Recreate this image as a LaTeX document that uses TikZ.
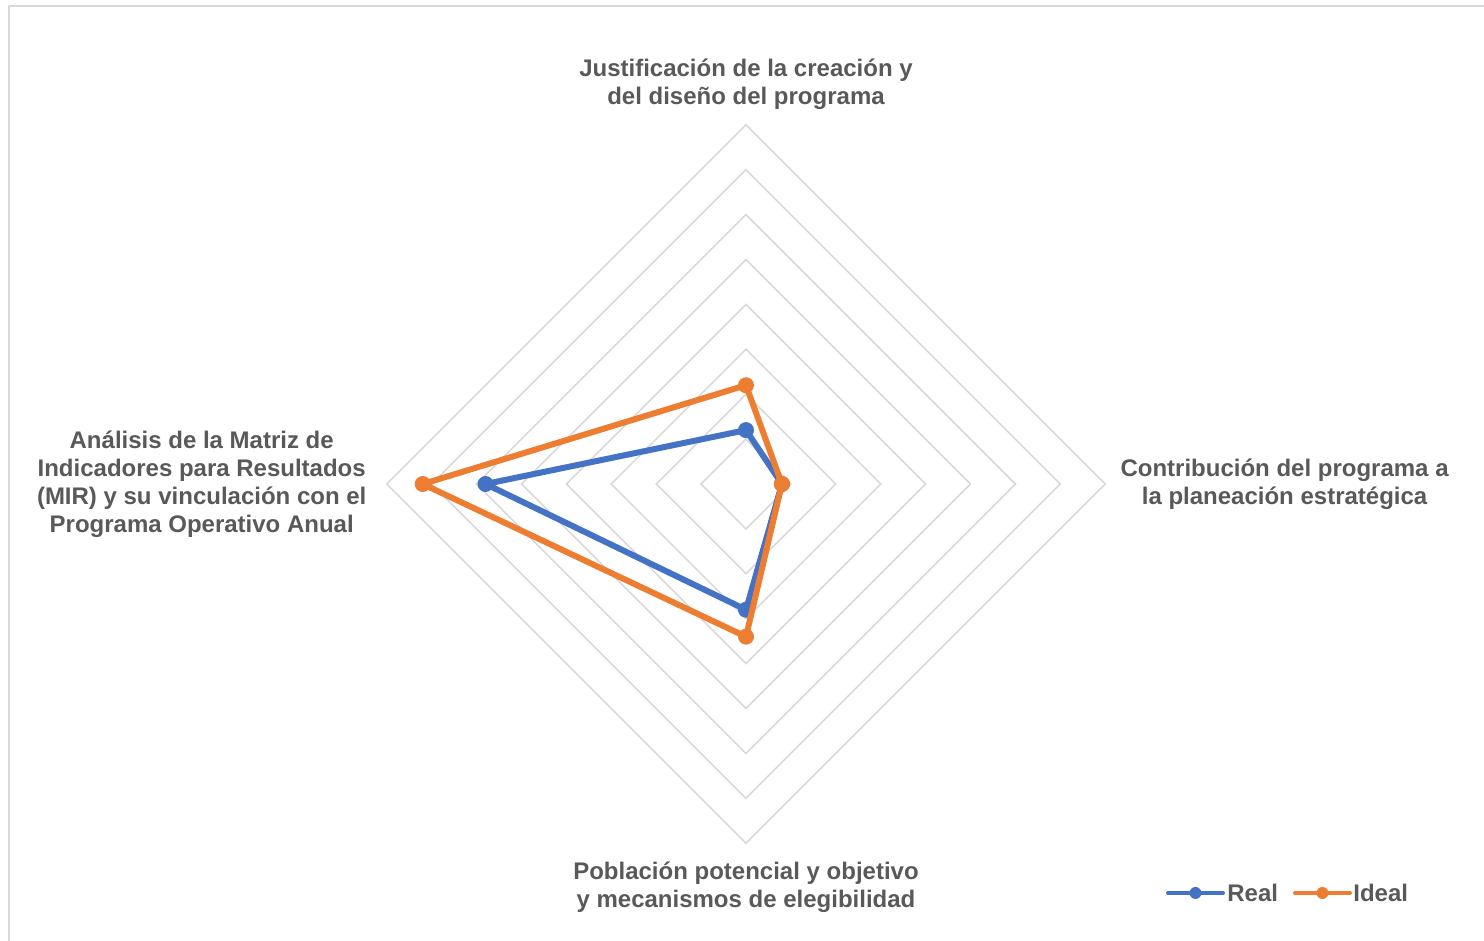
\documentclass[tikz,border=0pt]{standalone}
\usepackage{fontspec}
\setmainfont{Liberation Sans}
\usetikzlibrary{positioning,calc}
\definecolor{realblue}{HTML}{4472C4}
\definecolor{idealorange}{HTML}{ED7D31}
\definecolor{gridgray}{HTML}{D9D9D9}
\definecolor{labelgray}{HTML}{595959}

\begin{document}
\begin{tikzpicture}[x=22.45pt,y=22.45pt,
    gridline/.style={draw=gridgray,line width=0.8pt},
    axislabel/.style={text=labelgray,font=\bfseries\fontsize{12}{14}\selectfont,align=center,inner sep=0pt},
    realline/.style={draw=realblue,line width=3pt,line join=round},
    idealline/.style={draw=idealorange,line width=3pt,line join=round},
    legline/.style={line width=2pt,line cap=round}]
        \clip (-16.615,-10.178) rectangle (16.437,10.78);
        \useasboundingbox (-16.615,-10.178) rectangle (16.437,10.78);

        \draw[gridline] (-16.414,-12) -- (-16.414,10.646) -- (18,10.646);

        \foreach \r in {1,...,8}
            \draw[gridline] (0,\r) -- (\r,0) -- (0,-\r) -- (-\r,0) -- cycle;

        \coordinate (axtop) at (0,8);
        \coordinate (axright) at (8,0);
        \coordinate (axbottom) at (0,-8);
        \coordinate (axleft) at (-8,0);

        \node[axislabel,above=7.5pt of axtop] (lbltop) {Justificación de la creación y\\del diseño del programa};
        \node[axislabel,right=7.5pt of axright] (lblright) {Contribución del programa a\\la planeación estratégica};
        \node[axislabel,below=9pt of axbottom] (lblbottom) {Población potencial y objetivo\\y mecanismos de elegibilidad};
        \node[axislabel,left=10pt of axleft] (lblleft) {Análisis de la Matriz de\\Indicadores para Resultados\\(MIR) y su vinculación con el\\Programa Operativo Anual};

        \coordinate (real1) at (0,1.2);
        \coordinate (real2) at (0.8,0);
        \coordinate (real3) at (0,-2.8);
        \coordinate (real4) at (-5.8,0);
        \draw[realline] (real1) -- (real2) -- (real3) -- (real4) -- cycle;
        \foreach \p in {real1,real2,real3,real4}
            \fill[realblue] (\p) circle (4pt);

        \coordinate (ideal1) at (0,2.2);
        \coordinate (ideal2) at (0.8,0);
        \coordinate (ideal3) at (0,-3.4);
        \coordinate (ideal4) at (-7.2,0);
        \draw[idealline] (ideal1) -- (ideal2) -- (ideal3) -- (ideal4) -- cycle;
        \foreach \p in {ideal1,ideal2,ideal3,ideal4}
            \fill[idealorange] (\p) circle (4pt);

        \coordinate (legrealA) at (9.399,-9.109);
        \coordinate (legrealB) at (10.624,-9.109);
        \draw[legline,realblue] (legrealA) -- (legrealB);
        \fill[realblue] ($(legrealA)!0.5!(legrealB)$) circle (3pt);
        \node[axislabel,right=2pt of legrealB] (legrealtxt) {Real};

        \coordinate (legidealA) at (12.227,-9.109);
        \coordinate (legidealB) at (13.452,-9.109);
        \draw[legline,idealorange] (legidealA) -- (legidealB);
        \fill[idealorange] ($(legidealA)!0.5!(legidealB)$) circle (3pt);
        \node[axislabel,right=1.5pt of legidealB] (legidealtxt) {Ideal};
\end{tikzpicture}
\end{document}
